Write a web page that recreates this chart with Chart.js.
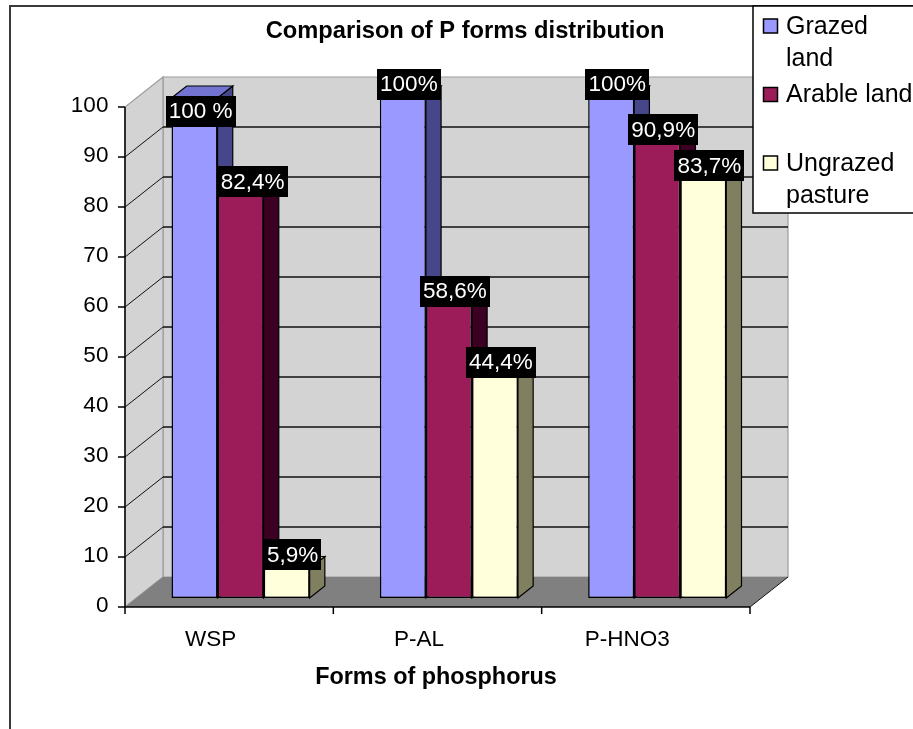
<!DOCTYPE html>
<html>
<head>
<meta charset="utf-8">
<title>Comparison of P forms distribution</title>
<script src="https://cdn.jsdelivr.net/npm/chart.js@4.4.1/dist/chart.umd.min.js"></script>
<style>
  html, body { margin: 0; padding: 0; background: #ffffff; overflow: hidden; }
  #wrap { width: 913px; height: 729px; position: relative; }
  canvas { display: block; }
</style>
</head>
<body>
<div id="wrap"><canvas id="chart" width="913" height="729"></canvas></div>
<script>
// ---- data ----
const categories = ['WSP', 'P-AL', 'P-HNO3'];
const seriesNames = ['Grazed land', 'Arable land', 'Ungrazed pasture'];
const grazedLand = [100, 100, 100];
const arableLand = [82.4, 58.6, 90.9];
const ungrazedPasture = [5.9, 44.4, 83.7];
const grazedLabels = ['100 %', '100%', '100%'];
const arableLabels = ['82,4%', '58,6%', '90,9%'];
const ungrazedLabels = ['5,9%', '44,4%', '83,7%'];
const yMin = 0, yMax = 100, yStep = 10;
const chartTitle = 'Comparison of P forms distribution';
const xAxisTitle = 'Forms of phosphorus';
const legendLines = [['Grazed', 'land'], ['Arable land'], ['Ungrazed', 'pasture']];

// ---- styles ----
const FONT = '"Liberation Sans", Arial, Helvetica, sans-serif';
const frontColors = ['#9999FF', '#9C1C5A', '#FFFFDC'];
const topColors = ['#7373D2', '#761746', '#D4D4AA'];
const sideColors = ['#46468A', '#3C0022', '#808060'];
const wallFill = '#D3D3D3';
const wallEdge = '#9C9C9C';
const floorFill = '#808080';

// oblique projection: full depth of the plot box, and depth range of the bars
const DX = 38, DY = -30;
const Z_FRONT = 0.3, Z_BACK = 0.7;
// hand-placed data labels: [series, category, dx, dy]
const labelNudges = [[0, 0, 0, 27], [1, 0, 6, 10]];

function project(chart, xPix, v, z) {
  const y = chart.scales.y.getPixelForValue(v);
  return [xPix + (z - Z_FRONT) * DX, y + (z - Z_FRONT) * DY];
}

function polygon(ctx, pts, fill, stroke, lw) {
  ctx.beginPath();
  ctx.moveTo(pts[0][0], pts[0][1]);
  for (let i = 1; i < pts.length; i++) ctx.lineTo(pts[i][0], pts[i][1]);
  ctx.closePath();
  if (fill) { ctx.fillStyle = fill; ctx.fill(); }
  if (stroke) { ctx.strokeStyle = stroke; ctx.lineWidth = lw || 1; ctx.stroke(); }
}

function line(ctx, a, b, color, lw) {
  ctx.beginPath();
  ctx.moveTo(a[0], a[1]);
  ctx.lineTo(b[0], b[1]);
  ctx.strokeStyle = color;
  ctx.lineWidth = lw || 1;
  ctx.stroke();
}

// walls, floor, gridlines, axes and the depth faces of the bars
const boxPlugin = {
  id: 'box3d',
  beforeDatasetsDraw(chart) {
    const ctx = chart.ctx;
    const xs = chart.scales.x;
    const left = chart.chartArea.left, right = chart.chartArea.right;
    const P = (x, v, z) => project(chart, x, v, z);
    ctx.save();
    // back wall
    polygon(ctx, [P(left, yMin, 1), P(right, yMin, 1), P(right, yMax, 1), P(left, yMax, 1)], wallFill, wallEdge, 1.2);
    // side wall
    polygon(ctx, [P(left, yMin, 0), P(left, yMax, 0), P(left, yMax, 1), P(left, yMin, 1)], wallFill, wallEdge, 1.2);
    // floor
    polygon(ctx, [P(left, yMin, 0), P(right, yMin, 0), P(right, yMin, 1), P(left, yMin, 1)], floorFill, null);
    // gridlines
    for (let v = yMin + yStep; v < yMax; v += yStep) {
      line(ctx, P(left, v, 1), P(right, v, 1), '#111', 1.5);
      line(ctx, P(left, v, 0), P(left, v, 1), '#111', 1);
    }
    line(ctx, P(right, yMin, 0), P(right, yMin, 1), '#111', 1);
    // value axis
    line(ctx, P(left, yMin, 0), P(left, yMax, 0), '#000', 1.5);
    for (let v = yMin; v <= yMax; v += yStep) {
      const p = P(left, v, 0);
      line(ctx, [p[0] - 7, p[1]], p, '#000', 1.5);
    }
    // category axis
    line(ctx, P(left, yMin, 0), P(right, yMin, 0), '#000', 1.5);
    for (let i = 0; i <= categories.length; i++) {
      const p = P(xs.getPixelForValue(i - 0.5), yMin, 0);
      line(ctx, p, [p[0], p[1] + 7], '#000', 1.5);
    }
    // depth faces of the bars (side, then top), series by series; fronts come later
    const bdx = (Z_BACK - Z_FRONT) * DX, bdy = (Z_BACK - Z_FRONT) * DY;
    chart.data.datasets.forEach((ds, k) => {
      chart.getDatasetMeta(k).data.forEach(bar => {
        const { x, y, base, width } = bar.getProps(['x', 'y', 'base', 'width'], true);
        const xl = x - width / 2, xr = x + width / 2;
        polygon(ctx, [[xr, base], [xr, y], [xr + bdx, y + bdy], [xr + bdx, base + bdy]], sideColors[k], '#000', 1.2);
        polygon(ctx, [[xl, y], [xr, y], [xr + bdx, y + bdy], [xl + bdx, y + bdy]], topColors[k], '#000', 1.2);
      });
    });
    ctx.restore();
  },
  afterDraw(chart) {
    const ctx = chart.ctx;
    const W = chart.width, H = chart.height;
    ctx.save();
    // data labels
    const texts = [grazedLabels, arableLabels, ungrazedLabels];
    ctx.font = '22.5px ' + FONT;
    ctx.textAlign = 'center';
    ctx.textBaseline = 'middle';
    chart.data.datasets.forEach((ds, k) => {
      const meta = chart.getDatasetMeta(k);
      meta.data.forEach((bar, i) => {
        const { x, y } = bar.getProps(['x', 'y'], true);
        let cx = x + 6, cy = y - 14;
        labelNudges.forEach(n => { if (n[0] === k && n[1] === i) { cx += n[2]; cy += n[3]; } });
        const t = texts[k][i];
        const w = ctx.measureText(t).width + 6, h = 31;
        ctx.fillStyle = '#000';
        ctx.fillRect(Math.round(cx - w / 2), Math.round(cy - h / 2), Math.round(w), h);
        ctx.fillStyle = '#fff';
        ctx.fillText(t, cx, cy + 1);
      });
    });
    // titles
    ctx.fillStyle = '#000';
    ctx.font = 'bold 23.7px ' + FONT;
    ctx.fillText(chartTitle, 465, 31);
    ctx.font = 'bold 23.4px ' + FONT;
    ctx.fillText(xAxisTitle, 436, 678);
    // outer frame
    ctx.strokeStyle = '#3a3a3a';
    ctx.lineWidth = 2;
    ctx.beginPath();
    ctx.moveTo(10, H + 2);
    ctx.lineTo(10, 6);
    ctx.lineTo(W + 2, 6);
    ctx.stroke();
    // legend
    ctx.fillStyle = '#fff';
    ctx.fillRect(753, 6, W - 753 + 4, 207);
    ctx.strokeStyle = '#000';
    ctx.lineWidth = 1.5;
    ctx.strokeRect(753, 6, W - 753 + 4, 207);
    ctx.font = '25px ' + FONT;
    ctx.textAlign = 'left';
    ctx.textBaseline = 'middle';
    legendLines.forEach((lines, k) => {
      const y0 = 26 + k * 68.5;
      ctx.fillStyle = frontColors[k];
      ctx.fillRect(763.5, y0 - 7, 14, 14);
      ctx.strokeStyle = '#000';
      ctx.lineWidth = 1.5;
      ctx.strokeRect(763.5, y0 - 7, 14, 14);
      ctx.fillStyle = '#000';
      lines.forEach((s, j) => ctx.fillText(s, 786, y0 + 1 + j * 32));
    });
    ctx.restore();
  }
};

const seriesValues = [grazedLand, arableLand, ungrazedPasture];

new Chart(document.getElementById('chart'), {
  type: 'bar',
  data: {
    labels: categories,
    datasets: seriesValues.map((vals, k) => ({
      label: seriesNames[k],
      data: vals,
      backgroundColor: frontColors[k],
      borderColor: '#000',
      borderWidth: 1.5,
      borderSkipped: false,
      categoryPercentage: 0.663,
      barPercentage: 1.0
    }))
  },
  options: {
    responsive: false,
    animation: false,
    events: [],
    layout: { padding: { left: 0, right: 151.6, top: 98, bottom: 0 } },
    plugins: {
      legend: { display: false },
      title: { display: false },
      tooltip: { enabled: false }
    },
    scales: {
      x: {
        grid: { display: false },
        border: { display: false },
        ticks: {
          color: '#000',
          font: { family: FONT, size: 22.5 },
          padding: 20,
          labelOffset: -30,
          maxRotation: 0,
          autoSkip: false
        },
        afterFit(scale) { scale.height = 131; }
      },
      y: {
        min: yMin,
        max: yMax,
        grid: { display: false },
        border: { display: false },
        ticks: {
          stepSize: yStep,
          color: '#000',
          font: { family: FONT, size: 22.5 },
          padding: 20,
          labelOffset: 8
        },
        afterFit(scale) { scale.width = 136.4; }
      }
    }
  },
  plugins: [boxPlugin]
});
</script>
</body>
</html>
